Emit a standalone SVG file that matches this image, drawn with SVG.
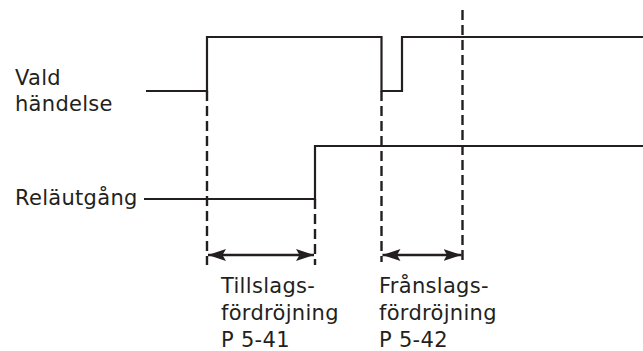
<svg xmlns="http://www.w3.org/2000/svg" width="643" height="351" viewBox="0 0 643 351">
<style>
.sig{fill:none;stroke:#231f20;stroke-width:2.2}
.dash{fill:none;stroke:#231f20;stroke-width:2.4;stroke-dasharray:10 5}
.arr{fill:none;stroke:#231f20;stroke-width:2.4;marker-start:url(#ah);marker-end:url(#ah)}
text{font-family:"DejaVu Sans",Verdana,sans-serif;font-size:21px;fill:#231f20;letter-spacing:0.3px}
</style>
<defs>
<marker id="ah" markerUnits="userSpaceOnUse" markerWidth="19" markerHeight="13" viewBox="0 0 19 13" refX="18" refY="6.5" orient="auto-start-reverse">
<path d="M0,0.5 L18,6.5 L0,12.5 L3.5,6.5 Z" fill="#231f20"/>
</marker>
</defs>
<g id="connectors">
<path class="dash" d="M207,91 V265"/>
<path class="dash" d="M315,199 V265"/>
<path class="dash" d="M381.5,91 V262"/>
<path class="dash" d="M462.5,10 V262"/>
<path class="arr" d="M208,255 H314"/>
<path class="arr" d="M382.5,255 H461.5"/>
</g>
<g id="vald-handelse">
<path class="sig" d="M146,91 H207 V37 H381.5 V91 H402 V37 H643"/>
<text x="15" y="85">Vald</text>
<text x="15" y="111">händelse</text>
</g>
<g id="relautgang">
<path class="sig" d="M144,199 H315 V146 H643"/>
<text x="15" y="205">Reläutgång</text>
</g>
<g id="tillslag">
<text x="221" y="293">Tillslags-</text>
<text x="221" y="320">fördröjning</text>
<text x="221" y="347">P 5-41</text>
</g>
<g id="franslag">
<text x="379" y="293">Frånslags-</text>
<text x="379" y="320">fördröjning</text>
<text x="379" y="347">P 5-42</text>
</g>
</svg>
